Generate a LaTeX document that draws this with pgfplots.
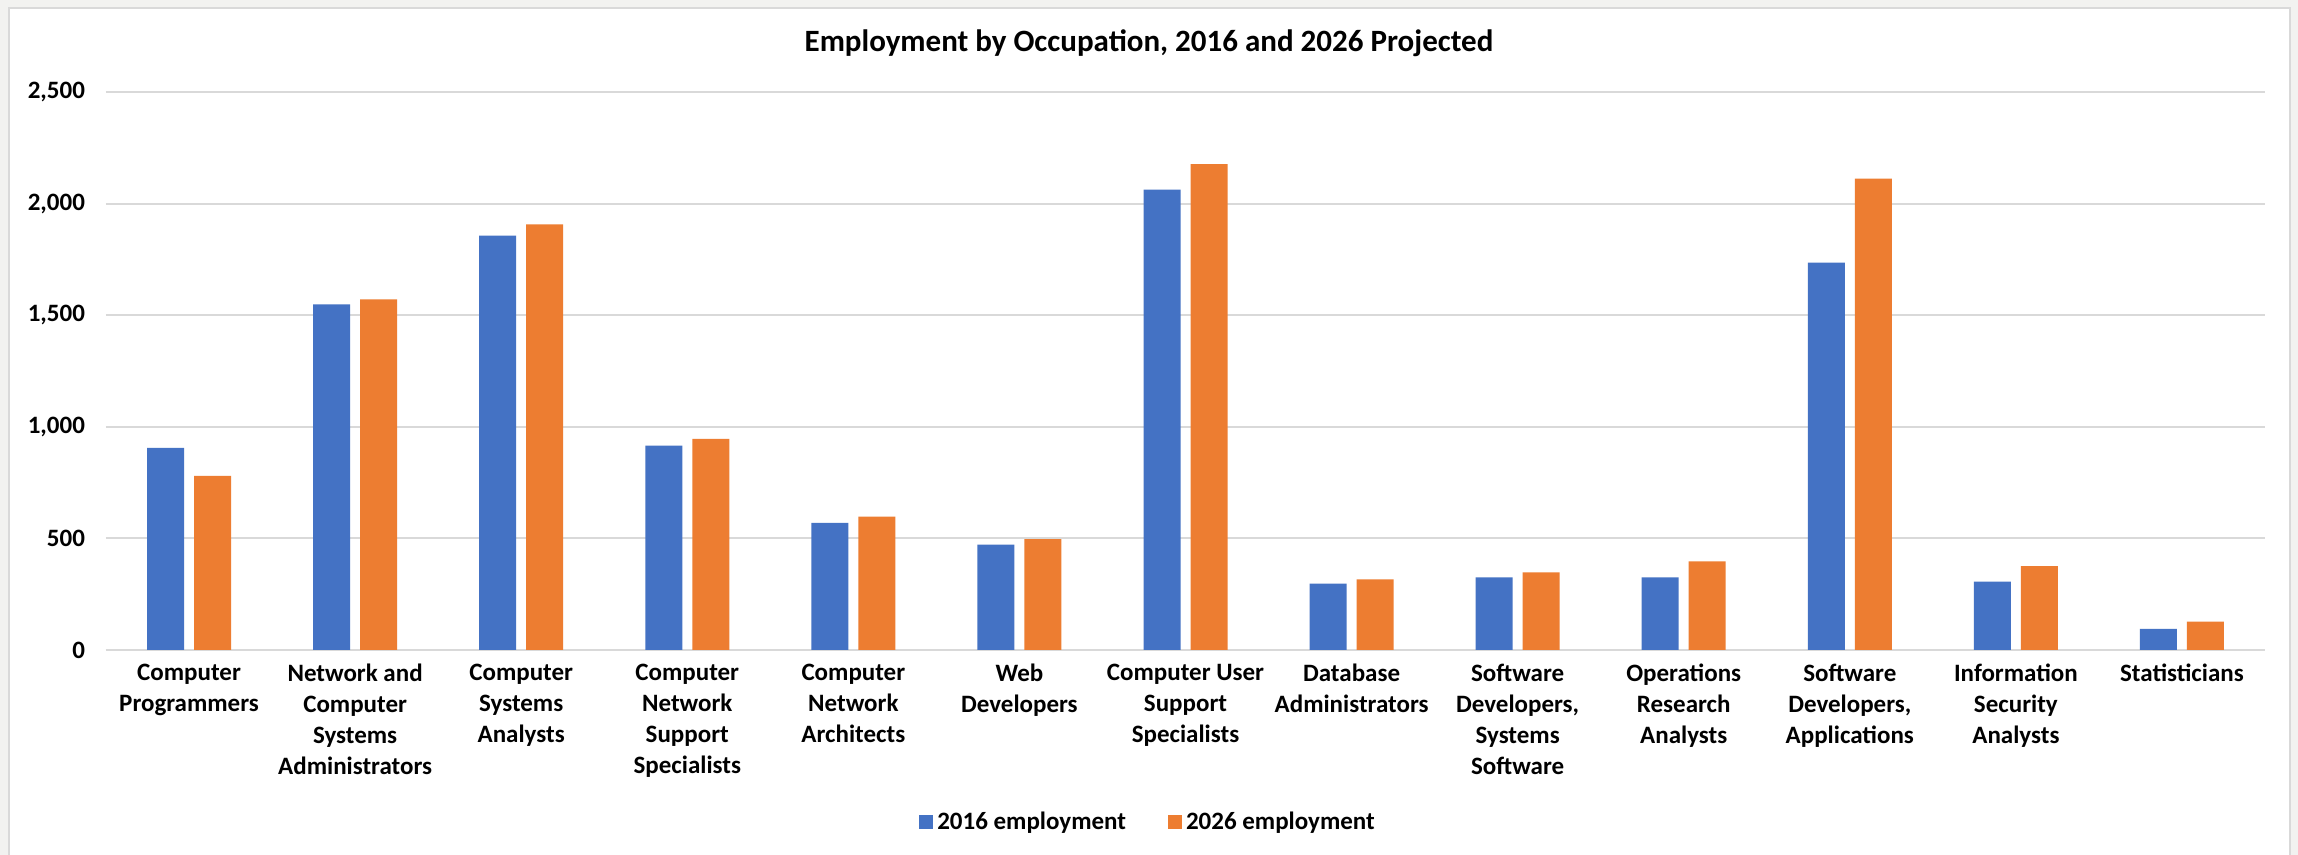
\documentclass[border=0pt]{standalone}
\usepackage{fontspec}
\setmainfont{Carlito}
\usepackage{pgfplots}
\pgfplotsset{compat=1.18}
\definecolor{xlblue}{HTML}{4472C4}
\definecolor{xlorange}{HTML}{ED7D31}
\definecolor{gridgray}{HTML}{D9D9D9}
\definecolor{bggray}{HTML}{F2F2F0}

\begin{document}
\begin{tikzpicture}
\useasboundingbox (0,0) rectangle (1149pt,427.5pt);
\fill[bggray] (0,0) rectangle (1149pt,427.5pt);
\filldraw[fill=white, draw=gridgray, line width=0.8pt] (4.5pt,-2pt) rectangle (1145pt,423.5pt);
\node[font=\fontsize{15.5}{18}\selectfont\bfseries] at (574.5pt,406pt) {Employment by Occupation, 2016 and 2026 Projected};
\begin{axis}[
    at={(53pt,102.5pt)}, anchor=south west,
    scale only axis,
    width=1079.5pt, height=279pt,
    ybar=5pt,
    bar width=18.5pt,
    xmin=-0.5, xmax=12.5,
    ymin=0, ymax=2500,
    ytick={0,500,1000,1500,2000,2500},
    xtick={0,...,12},
    xticklabels={
        {Computer\\Programmers},
        {Network and\\Computer\\Systems\\Administrators},
        {Computer\\Systems\\Analysts},
        {Computer\\Network\\Support\\Specialists},
        {Computer\\Network\\Architects},
        {Web\\Developers},
        {Computer User\\Support\\Specialists},
        {Database\\Administrators},
        {Software\\Developers,\\Systems\\Software},
        {Operations\\Research\\Analysts},
        {Software\\Developers,\\Applications},
        {Information\\Security\\Analysts},
        {Statisticians}},
    xticklabel style={align=center, anchor=north, yshift=-3.5pt,
        font=\fontsize{12.5}{15.5}\selectfont\bfseries},
    yticklabel style={font=\fontsize{12.5}{15}\selectfont\bfseries, xshift=-7pt},
    /pgf/number format/assume math mode=true,
    /pgf/number format/.cd, 1000 sep={,}, /pgfplots/.cd,
    major tick length=0pt,
    ymajorgrids,
    grid style={gridgray, line width=1pt},
    axis x line*=bottom,
    axis y line*=left,
    x axis line style={gridgray, line width=1pt, -},
    y axis line style={draw=none},
    legend style={at={(0.4831,-0.309)}, anchor=center, draw=none,
        legend columns=2, font=\fontsize{12.5}{15}\selectfont\bfseries,
        /tikz/every even column/.append style={column sep=19pt}},
    legend image code/.code={\fill[#1] (0pt,-3.5pt) rectangle (7pt,3.5pt);},
]
\addplot[fill=xlblue, draw=none] coordinates {
    (0,906) (1,1548) (2,1856) (3,916) (4,570) (5,472) (6,2063)
    (7,297) (8,325) (9,325) (10,1736) (11,306) (12,95)};
\addplot[fill=xlorange, draw=none] coordinates {
    (0,780) (1,1571) (2,1907) (3,946) (4,597) (5,497) (6,2177)
    (7,316) (8,348) (9,397) (10,2112) (11,376) (12,127)};
\legend{2016 employment, 2026 employment}
\end{axis}
\end{tikzpicture}
\end{document}
